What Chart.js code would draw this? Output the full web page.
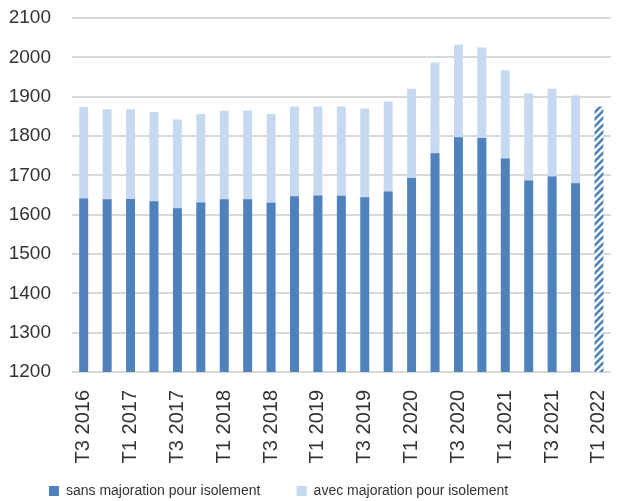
<!DOCTYPE html>
<html>
<head>
<meta charset="utf-8">
<script src="https://cdn.jsdelivr.net/npm/chart.js"></script>
<style>
  html, body { margin: 0; padding: 0; background: #ffffff; }
  #wrap { width: 633px; height: 501px; }
</style>
</head>
<body>
<div id="wrap"><canvas id="isolement"></canvas></div>
<script>
const quarters = ['T3 2016', 'T4 2016', 'T1 2017', 'T2 2017', 'T3 2017', 'T4 2017',
  'T1 2018', 'T2 2018', 'T3 2018', 'T4 2018', 'T1 2019', 'T2 2019', 'T3 2019', 'T4 2019',
  'T1 2020', 'T2 2020', 'T3 2020', 'T4 2020', 'T1 2021', 'T2 2021', 'T3 2021', 'T4 2021', 'T1 2022'];
const sansMajoration = [1641, 1639, 1640, 1634, 1616, 1631, 1639, 1639, 1630, 1647, 1649, 1648,
  1644, 1659, 1693, 1756, 1797, 1795, 1743, 1687, 1697, 1680, null];
const avecMajoration = [1874, 1868, 1868, 1861, 1842, 1856, 1864, 1865, 1856, 1875, 1875, 1875,
  1870, 1888, 1920, 1987, 2032, 2025, 1967, 1909, 1920, 1903, null];
const projection = [null, null, null, null, null, null, null, null, null, null, null, null,
  null, null, null, null, null, null, null, null, null, null, 1875];
const yTicks = { min: 1200, max: 2100, step: 100 };

const ctx = document.getElementById('isolement');

// diagonal hatch for the last (estimated) quarter
function hatch() {
  const c = document.createElement('canvas');
  c.width = 7;
  c.height = 7;
  const g = c.getContext('2d');
  g.fillStyle = '#ffffff';
  g.fillRect(0, 0, 7, 7);
  g.strokeStyle = '#4f81bd';
  g.lineWidth = 2.6;
  g.beginPath();
  g.moveTo(-1, 8); g.lineTo(8, -1);
  g.moveTo(-4, 4); g.lineTo(4, -4);
  g.moveTo(3, 11); g.lineTo(11, 3);
  g.stroke();
  return g.createPattern(c, 'repeat');
}

Chart.defaults.font.family = '"Liberation Sans", Arial, sans-serif';
Chart.defaults.color = '#333333';

// legend spacing: the gap after each item is kept as trailing blanks
const legendGap = ['        ', '                   '];

new Chart(ctx, {
  type: 'bar',
  data: {
    labels: quarters,
    datasets: [{
      label: 'sans majoration pour isolement',
      data: sansMajoration,
      backgroundColor: '#4f81bd'
    },
    {
      label: 'avec majoration pour isolement',
      data: avecMajoration,
      backgroundColor: '#c6d9f0'
    },
    {
      label: 'projection',
      data: projection,
      backgroundColor: hatch()
    }]
  },
  options: {
    responsive: true,
    maintainAspectRatio: false,
    animation: false,
    categoryPercentage: 1,
    barPercentage: 0.38,
    layout: { padding: { top: 18, right: 2, left: 0, bottom: -7 } },
    plugins: {
      tooltip: { enabled: false },
      legend: {
        position: 'bottom',
        labels: {
          boxWidth: 10,
          boxHeight: 10,
          padding: 5,
          font: { size: 14 },
          generateLabels: chart => {
            const items = Chart.defaults.plugins.legend.labels.generateLabels(chart);
            return items.filter(item => item.datasetIndex < 2).map((item, i) => {
              item.text = item.text + legendGap[i];
              return item;
            });
          }
        }
      }
    },
    scales: {
      x: {
        stacked: true,
        grid: { display: false },
        border: { display: false },
        afterFit: axis => { axis.height = 107; },
        ticks: {
          autoSkip: false,
          maxRotation: 90,
          minRotation: 90,
          padding: 10,
          font: { size: 20 },
          callback: function (value, index) {
            return index % 2 === 0 ? this.getLabelForValue(value) : '';
          }
        }
      },
      y: {
        stacked: false,
        min: yTicks.min,
        max: yTicks.max,
        afterFit: axis => {
          axis.width = 72;
          axis.paddingTop = 0;
          axis.paddingBottom = 0;
        },
        border: { display: false },
        grid: { color: '#d9d9d9', lineWidth: 2, drawTicks: false },
        ticks: {
          stepSize: yTicks.step,
          padding: 21,
          font: { size: 19 },
          callback: value => String(value)
        }
      }
    }
  }
});
</script>
</body>
</html>
